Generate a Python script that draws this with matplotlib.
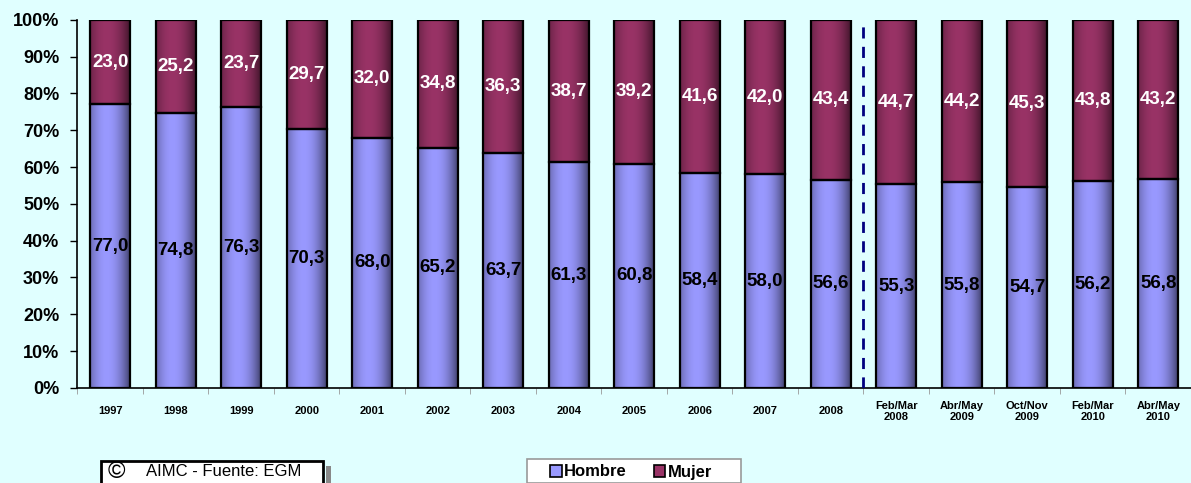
import numpy as np
import matplotlib
matplotlib.use('Agg')
import matplotlib.pyplot as plt
from matplotlib.patches import Patch, Rectangle

plt.rcParams['font.family'] = ['Liberation Sans', 'DejaVu Sans']
plt.rcParams['font.weight'] = 'bold'

periodos = ['1997', '1998', '1999', '2000', '2001', '2002', '2003', '2004',
            '2005', '2006', '2007', '2008', 'Feb/Mar\n2008', 'Abr/May\n2009',
            'Oct/Nov\n2009', 'Feb/Mar\n2010', 'Abr/May\n2010']
hombre = [77.0, 74.8, 76.3, 70.3, 68.0, 65.2, 63.7, 61.3, 60.8, 58.4, 58.0,
          56.6, 55.3, 55.8, 54.7, 56.2, 56.8]
mujer = [23.0, 25.2, 23.7, 29.7, 32.0, 34.8, 36.3, 38.7, 39.2, 41.6, 42.0,
         43.4, 44.7, 44.2, 45.3, 43.8, 43.2]

bg = '#E0FFFF'
c_hombre = np.array([0x99, 0x99, 0xFF]) / 255.
c_mujer = np.array([0x99, 0x33, 0x66]) / 255.

W, H = 1191, 483


def gradiente(base, n=64):
    # dark at both sides, light near the middle (cylinder look)
    t = np.linspace(0, 1, n)
    f = 1 - ((t - 0.42) / 0.6) ** 2
    f = 0.4 + 0.6 * np.clip(f, 0, 1)
    return (base[None, :] * f[:, None])[None, :, :]


fig = plt.figure(figsize=(W / 100, H / 100), dpi=100, facecolor=bg)
ax = fig.add_axes([0.065, 0.197, 0.935, 0.762], facecolor=bg)

x = np.arange(len(periodos))
w = 0.61
b1 = ax.bar(x, hombre, w, color=c_hombre, zorder=2)
b2 = ax.bar(x, mujer, w, bottom=hombre, color=c_mujer, zorder=2)

for bars, base in ((b1, c_hombre), (b2, c_mujer)):
    g = gradiente(base)
    for r in bars:
        x0, y0, ww, hh = r.get_x(), r.get_y(), r.get_width(), r.get_height()
        im = ax.imshow(g, extent=[x0, x0 + ww, y0, y0 + hh], aspect='auto',
                       interpolation='bicubic', zorder=2.5)
        im.set_clip_path(r)

ax.bar(x, hombre, w, fill=False, edgecolor='black', linewidth=1.6, zorder=3)
ax.bar(x, mujer, w, bottom=hombre, fill=False, edgecolor='black',
       linewidth=1.6, zorder=3)

for i in range(len(x)):
    ax.text(x[i], hombre[i] / 2, f'{hombre[i]:.1f}'.replace('.', ','),
            ha='center', va='center', fontsize=13.5, fontweight='bold',
            color='black', zorder=4)
    ax.text(x[i], hombre[i] + mujer[i] / 2, f'{mujer[i]:.1f}'.replace('.', ','),
            ha='center', va='center', fontsize=13.5, fontweight='bold',
            color='white', zorder=4)

ax.plot([11.5, 11.5], [0, 99.5], color='#000080', linestyle=(0, (4, 3)),
        linewidth=2, zorder=3)

ax.set_xlim(-0.5, len(x) - 0.5)
ax.set_ylim(0, 100)
ax.set_yticks(np.arange(0, 101, 10))
ax.set_yticklabels([f'{v}%' for v in range(0, 101, 10)], fontsize=13,
                   fontweight='bold')
ax.set_xticks(x)
ax.set_xticklabels(periodos, fontsize=8, fontweight='bold', linespacing=1.2)
for lab in ax.get_xticklabels():
    lab.set_verticalalignment('center')
ax.set_xticks(np.arange(-0.5, len(x), 1), minor=True)
ax.tick_params(axis='x', which='major', length=0, pad=17)
ax.tick_params(axis='x', which='minor', length=4, color='#999999')
ax.tick_params(axis='y', length=5, width=1, pad=8)
for s in ('top', 'right'):
    ax.spines[s].set_visible(False)
ax.spines['left'].set_linewidth(1.2)
ax.spines['bottom'].set_linewidth(1.2)

# legend box
fig.patches.append(Rectangle((527 / W, 0), (741 - 527) / W, 1 - 459 / H,
                             transform=fig.transFigure, facecolor='white',
                             edgecolor='#999999', linewidth=1.2, zorder=1))
handles = [Patch(facecolor=c_hombre, edgecolor='black', linewidth=1.2),
           Patch(facecolor=c_mujer, edgecolor='black', linewidth=1.2)]
leg = fig.legend(handles, ['Hombre', 'Mujer'], loc='center left',
                 bbox_to_anchor=(550 / W, 1 - 472 / H), ncol=2,
                 fontsize=12, frameon=False,
                 handlelength=0.7, handleheight=0.7, handletextpad=0.15,
                 columnspacing=1.6, borderpad=0, borderaxespad=0)
for t in leg.get_texts():
    t.set_fontweight('bold')

# source box, low on the figure (kept readable)
top = 461
fig.patches.append(Rectangle((326 / W, 0), 5 / W, 1 - (top + 5) / H,
                             transform=fig.transFigure, facecolor='#888888',
                             edgecolor='none', zorder=1))
fig.patches.append(Rectangle((101 / W, -0.05), (323 - 101) / W,
                             1 - top / H + 0.05, transform=fig.transFigure,
                             facecolor='white', edgecolor='black',
                             linewidth=2, zorder=2))
fig.text(108 / W, 1 - (top + 11) / H, '\u00a9', fontsize=17,
         fontweight='normal', ha='left', va='center', zorder=3)
fig.text(146 / W, 1 - (top + 11) / H, 'AIMC - Fuente: EGM', fontsize=12,
         fontweight='normal', ha='left', va='center', zorder=3)

fig.savefig('out.png', dpi=100, facecolor=bg)
